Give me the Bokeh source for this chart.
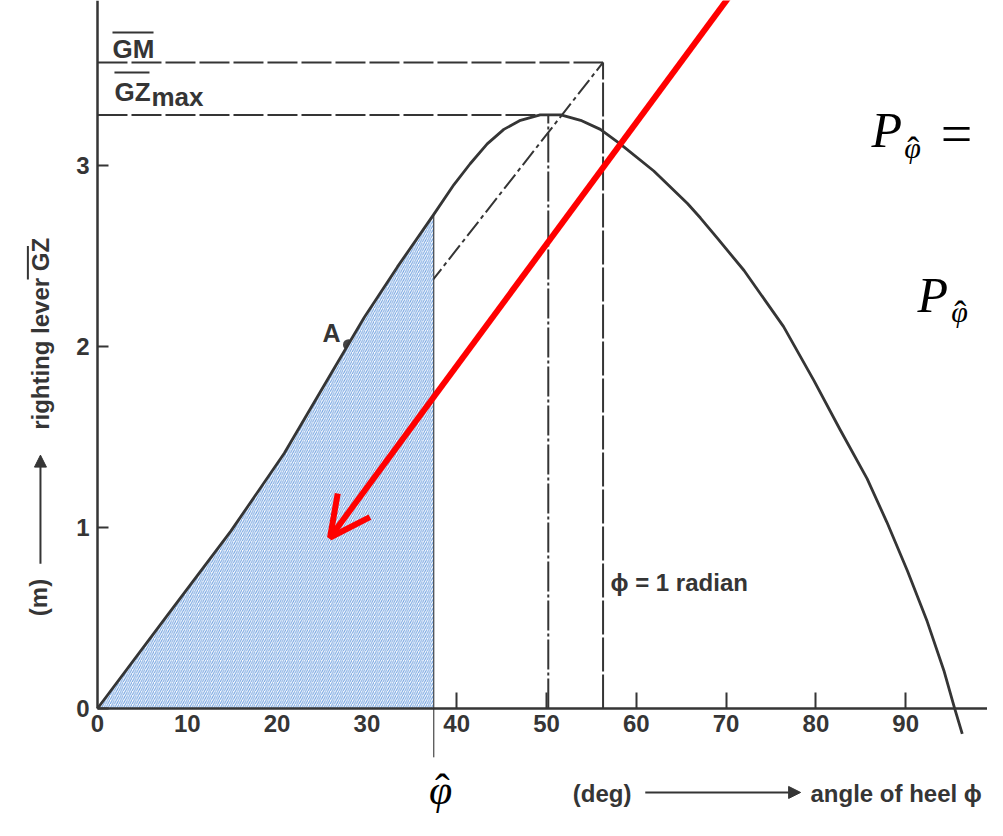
import numpy as np
from bokeh.plotting import figure
from bokeh.models import LinearAxis, FixedTicker, Arrow, OpenHead, NormalHead, Range1d
from bokeh.core.properties import value
from bokeh.embed import file_html
from bokeh.resources import INLINE

# ---- data ----
heel_deg = [0, 7.4, 14.85, 20.8, 26.0, 29.7, 33.4, 37.45, 39.7, 41.5, 43.4, 45.25,
            47.1, 49.3, 51.6, 53.8, 56.0, 58.2, 61.95, 65.7, 67.15, 69.0, 72.0,
            76.4, 79.8, 82.7, 85.7, 87.9, 90.2, 92.4, 94.25, 95.45, 96.3]
gz_m = [0, 0.49, 0.98, 1.41, 1.85, 2.16, 2.44, 2.73, 2.895, 3.01, 3.12, 3.20,
        3.25, 3.28, 3.28, 3.25, 3.20, 3.12, 2.97, 2.79, 2.71, 2.60, 2.42,
        2.11, 1.81, 1.54, 1.27, 1.03, 0.76, 0.48, 0.21, 0.0, -0.14]

x_ticks_hidden = [0, 10, 20, 30]
x_ticks_shown = [40, 50, 60, 70, 80, 90]
y_ticks = [0, 1, 2, 3]

GM = 3.57            # level of the GM line
GZ_MAX = 3.28        # maximum righting lever
PHI_GZMAX = 50.2     # angle at GZ max (deg)
PHI_1RAD = 56.3      # 1 radian as drawn (deg)
PHI_HAT = 37.45      # upper limit of hatched area (deg)
POINT_A = (27.95, 2.01)

X_LIM = (-10.80, 99.11)
Y_LIM = (-0.619, 3.912)

arrow_start = (70.6, 3.95)
arrow_end = (25.9, 0.945)

INK = "#353535"

p = figure(width=987, height=820, x_range=Range1d(*X_LIM), y_range=Range1d(*Y_LIM),
           output_backend="svg", toolbar_location=None, title=None,
           x_axis_type=None, y_axis_type=None, min_border=0)
p.grid.visible = False
p.outline_line_color = None
p.background_fill_color = "white"

# ---- axes ----
tick_font = dict(major_label_text_font="Liberation Sans",
                 major_label_text_font_style="bold",
                 major_label_text_font_size="24px",
                 major_label_text_color=INK)
xax = LinearAxis(fixed_location=0, ticker=FixedTicker(ticks=x_ticks_shown),
                 bounds=(0, X_LIM[1]), major_tick_in=16, major_tick_out=0,
                 minor_tick_in=0, minor_tick_out=0,
                 axis_line_color=INK, axis_line_width=2.5,
                 major_tick_line_color=INK, major_tick_line_width=2,
                 major_label_standoff=7, **tick_font)
p.add_layout(xax, "below")
xax0 = LinearAxis(fixed_location=0, ticker=FixedTicker(ticks=x_ticks_hidden),
                  major_tick_in=0, major_tick_out=0, minor_tick_in=0, minor_tick_out=0,
                  axis_line_color=None, major_label_standoff=7, **tick_font)
p.add_layout(xax0, "below")
yax = LinearAxis(fixed_location=0, ticker=FixedTicker(ticks=y_ticks),
                 bounds=(0, Y_LIM[1]), major_tick_in=11, major_tick_out=0,
                 minor_tick_in=0, minor_tick_out=0,
                 axis_line_color=INK, axis_line_width=2.5,
                 major_tick_line_color=INK, major_tick_line_width=2,
                 major_label_standoff=8, **tick_font)
p.add_layout(yax, "left")

# ---- reference lines ----
p.line([0, PHI_1RAD], [GM, GM], line_color=INK, line_width=2, line_dash="30 4")
p.line([0, PHI_GZMAX], [GZ_MAX, GZ_MAX], line_color=INK, line_width=2, line_dash="30 4")
p.line([PHI_1RAD, PHI_1RAD], [0, GM], line_color=INK, line_width=2, line_dash="34 3")
p.line([PHI_GZMAX, PHI_GZMAX], [0, GZ_MAX], line_color=INK, line_width=2, line_dash="30 3 3 3")
p.line([0, PHI_1RAD], [0, GM], line_color=INK, line_width=2, line_dash="18 4 4 4")

# point A marker (half hidden by the hatch)
p.scatter([POINT_A[0]], [POINT_A[1]], size=11, marker="circle",
          fill_color="#444444", line_color=None)

# ---- hatched area up to phi_hat ----
hx = [d for d in heel_deg if d <= PHI_HAT]
hy = [g for d, g in zip(heel_deg, gz_m) if d <= PHI_HAT]
gz_at_hat = hy[-1]
p.patch(hx + [PHI_HAT], hy + [0], fill_color="white", line_color=None,
        hatch_pattern="/", hatch_color="#6d9fdf", hatch_scale=4.4, hatch_weight=1.0)
p.line([PHI_HAT, PHI_HAT], [gz_at_hat, -0.27], line_color="#222222", line_width=1)

# ---- GZ curve ----
p.line(heel_deg, gz_m, line_color=INK, line_width=2.8, line_join="round")

# ---- labels ----
lbl = dict(text_font=value("Liberation Sans"), text_font_style="bold", text_color=INK,
           text_baseline="middle")
p.text([1.67], [3.644], text=["GM"], text_font_size="26px", **lbl)
p.segment([1.67], [3.735], [6.24], [3.735], line_color=INK, line_width=2)
p.text([1.89], [3.409], text=["GZ"], text_font_size="26px", **lbl)
p.text([6.01], [3.38], text=["max"], text_font_size="26px", **lbl)
p.segment([1.89], [3.514], [5.79], [3.514], line_color=INK, line_width=2)
p.text([25.06], [2.077], text=["A"], text_font_size="25px", **lbl)
p.text([57.13], [0.696], text=["ϕ = 1 radian"], text_font_size="24px", **lbl)

# y label (rotated)
p.text([-6.57], [0.613], text=["(m)"], angle=np.pi / 2, text_font_size="24px",
       text_align="center", **lbl)
p.add_layout(Arrow(x_start=-6.35, y_start=0.80, x_end=-6.35, y_end=1.40,
                   line_color=INK, line_width=2,
                   end=NormalHead(size=12, fill_color=INK, line_color=INK)))
p.text([-6.35], [2.07], text=["righting lever GZ"], angle=np.pi / 2, text_font_size="24px",
       text_align="center", **lbl)
p.segment([-7.75], [2.37], [-7.75], [2.555], line_color=INK, line_width=2)

# x label
p.text([56.2], [-0.47], text=["(deg)"], text_font_size="24px", text_align="center", **lbl)
p.add_layout(Arrow(x_start=61.0, y_start=-0.464, x_end=78.3, y_end=-0.464,
                   line_color=INK, line_width=2,
                   end=NormalHead(size=12, fill_color=INK, line_color=INK)))
p.text([79.4], [-0.47], text=["angle of heel ϕ"], text_font_size="24px",
       text_align="left", **lbl)

# phi hat below the axis
serif = dict(text_font=value("Liberation Serif"), text_font_style="italic",
             text_color="black", text_baseline="middle", text_align="center")
hat = dict(text_font=value("Liberation Serif"), text_color="black",
           text_baseline="middle", text_align="center")
p.text([38.2], [-0.453], text=["φ"], text_font_size="42px", **serif)
p.text([38.4], [-0.445], text=["ˆ"], text_font_size="44px", **hat)

# formulas on the right
p.text([86.2], [3.199], text=["P"], text_font_size="50px",
       **{**serif, "text_align": "left"})
p.text([90.77], [3.098], text=["φ"], text_font_size="30px", **serif)
p.text([90.85], [3.086], text=["ˆ"], text_font_size="36px", **hat)
p.text([93.9], [3.177], text=["="], text_font_size="56px",
       **{**hat, "text_align": "left"})
p.text([91.31], [2.282], text=["P"], text_font_size="50px",
       **{**serif, "text_align": "left"})
p.text([96.0], [2.193], text=["φ"], text_font_size="30px", **serif)
p.text([96.08], [2.181], text=["ˆ"], text_font_size="36px", **hat)

# red pointer arrow
p.add_layout(Arrow(x_start=arrow_start[0], y_start=arrow_start[1],
                   x_end=arrow_end[0], y_end=arrow_end[1],
                   line_color="#ff0000", line_width=6,
                   end=OpenHead(size=40, line_color="#ff0000", line_width=6)))

open("out.html", "w").write(file_html(p, INLINE))
